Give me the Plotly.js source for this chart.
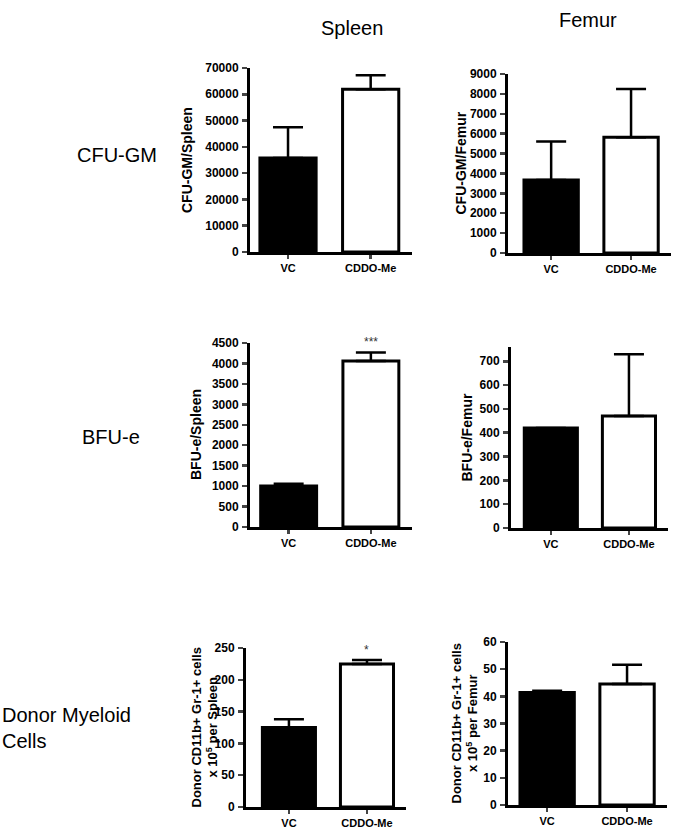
<!DOCTYPE html>
<html>
<head>
<meta charset="utf-8">
<script src="https://cdn.plot.ly/plotly-3.0.1.min.js"></script>
<style>
  html, body { margin: 0; padding: 0; background: #fff; }
  #chart { width: 676px; height: 830px; }
</style>
</head>
<body>
<div id="chart"></div>
<script>
// groups on every panel
const groups = ['VC', 'CDDO-Me'];
const barColors = ['#000000', '#ffffff'];

// CFU-GM
const cfuSpleen = [35800, 61900];
const cfuSpleenErr = [11700, 5300];
const cfuFemur = [3670, 5820];
const cfuFemurErr = [1930, 2430];

// BFU-e
const bfuSpleen = [1000, 4060];
const bfuSpleenErr = [55, 210];
const bfuFemur = [420, 470];
const bfuFemurErr = [0, 260];

// Donor CD11b+ Gr-1+ cells x 10^5
const myeloidSpleen = [125, 225];
const myeloidSpleenErr = [13, 6];
const myeloidFemur = [41.4, 44.5];
const myeloidFemurErr = [0.7, 7.1];

const W = 676, H = 830;
const px = x => x / W;
const py = y => 1 - y / H;

const FONT = 'Arial, "Liberation Sans", sans-serif';

// panel placement in pixels
const panels = [
    { vals: cfuSpleen, errs: cfuSpleenErr, title: 'CFU-GM/Spleen', left: 250, right: 412, xmin: -0.46, top: 68, bottom: 252, ymax: 70000, dtick: 10000, titleX: 187 },
    { vals: cfuFemur, errs: cfuFemurErr, title: 'CFU-GM/Femur', left: 508, right: 671, xmin: -0.54, top: 74, bottom: 253, ymax: 9000, dtick: 1000, titleX: 460 },
    { vals: bfuSpleen, errs: bfuSpleenErr, title: 'BFU-e/Spleen', left: 250, right: 412, xmin: -0.47, top: 343, bottom: 527, ymax: 4500, dtick: 500, titleX: 196, star: '***' },
    { vals: bfuFemur, errs: bfuFemurErr, title: 'BFU-e/Femur', left: 511, right: 668, xmin: -0.51, top: 347, bottom: 528, ymax: 760, dtick: 100, titleX: 466 },
    { vals: myeloidSpleen, errs: myeloidSpleenErr, title: 'Donor CD11b+ Gr-1+ cells<br>x 10<sup>5</sup> per Spleen', left: 246, right: 406, xmin: -0.55, top: 648, bottom: 807, ymax: 250, dtick: 50, titleX: 204, titleSize: 13, star: '*' },
    { vals: myeloidFemur, errs: myeloidFemurErr, title: 'Donor CD11b+ Gr-1+ cells<br>x 10<sup>5</sup> per Femur', left: 508, right: 667, xmin: -0.49, top: 642, bottom: 805, ymax: 60, dtick: 10, titleX: 464, titleSize: 13 }
];

const data = [];
const layout = {
    width: W,
    height: H,
    margin: { l: 0, r: 0, t: 0, b: 0 },
    paper_bgcolor: '#fff',
    plot_bgcolor: 'rgba(0,0,0,0)',
    showlegend: false,
    font: { family: FONT, color: '#000' },
    annotations: []
};

panels.forEach((p, i) => {
    const n = i + 1;
    const xa = n === 1 ? 'x' : 'x' + n;
    const ya = n === 1 ? 'y' : 'y' + n;
    const xKey = n === 1 ? 'xaxis' : 'xaxis' + n;
    const yKey = n === 1 ? 'yaxis' : 'yaxis' + n;

    data.push({
        type: 'bar',
        x: [0, 1],
        y: p.vals,
        width: 0.68,
        xaxis: xa,
        yaxis: ya,
        marker: { color: barColors, line: { color: '#000', width: 3 } },
        error_y: {
            type: 'data',
            symmetric: false,
            array: p.errs,
            arrayminus: [0, 0],
            color: '#000',
            thickness: 2.5,
            width: 15
        },
        hoverinfo: 'none'
    });

    const span = 1.5 - p.xmin;
    layout[xKey] = {
        domain: [px(p.left), px(p.right)],
        anchor: ya,
        range: [p.xmin, p.xmin + span],
        tickvals: [0, 1],
        ticktext: groups,
        ticks: 'outside',
        ticklen: 4,
        tickwidth: 2.5,
        showline: true,
        linewidth: 3,
        linecolor: '#000',
        showgrid: false,
        zeroline: false,
        tickfont: { family: FONT, size: 11, weight: 'bold', color: '#000' }
    };
    layout[yKey] = {
        domain: [py(p.bottom), py(p.top)],
        anchor: xa,
        range: [0, p.ymax],
        dtick: p.dtick,
        tick0: 0,
        tickformat: 'd',
        ticks: 'outside',
        ticklen: 5,
        tickwidth: 2.5,
        showline: true,
        linewidth: 3,
        linecolor: '#000',
        showgrid: false,
        zeroline: false,
        tickfont: { family: FONT, size: 12, weight: 'bold', color: '#000' },
        ticklabelstandoff: 1
    };

    // y axis title
    layout.annotations.push({
        text: p.title,
        xref: 'paper', yref: 'paper',
        x: px(p.titleX), y: py((p.top + p.bottom) / 2),
        xanchor: 'center', yanchor: 'middle',
        textangle: -90,
        showarrow: false,
        font: { family: FONT, size: p.titleSize || 14, weight: 'bold', color: '#000' }
    });

    // significance marker over CDDO-Me
    if (p.star) {
        layout.annotations.push({
            text: p.star,
            xref: xa, yref: ya,
            x: 1, y: p.vals[1] + p.errs[1],
            yanchor: 'bottom',
            yshift: 1,
            showarrow: false,
            font: { family: FONT, size: 12, color: '#333' }
        });
    }
});

// column and row headings
const headings = [
    { text: 'Spleen', x: 352, y: 28, anchor: 'center' },
    { text: 'Femur', x: 588, y: 20, anchor: 'center' },
    { text: 'CFU-GM', x: 75, y: 155, anchor: 'left' },
    { text: 'BFU-e', x: 80, y: 437, anchor: 'left' },
    { text: 'Donor Myeloid<br>Cells', x: 0, y: 728, anchor: 'left' }
];
headings.forEach(h => {
    layout.annotations.push({
        text: h.text,
        xref: 'paper', yref: 'paper',
        x: px(h.x), y: py(h.y),
        xanchor: h.anchor, yanchor: 'middle',
        align: 'left',
        showarrow: false,
        font: { family: FONT, size: 20, color: '#000' }
    });
});

Plotly.newPlot('chart', data, layout, { staticPlot: true });
</script>
</body>
</html>
